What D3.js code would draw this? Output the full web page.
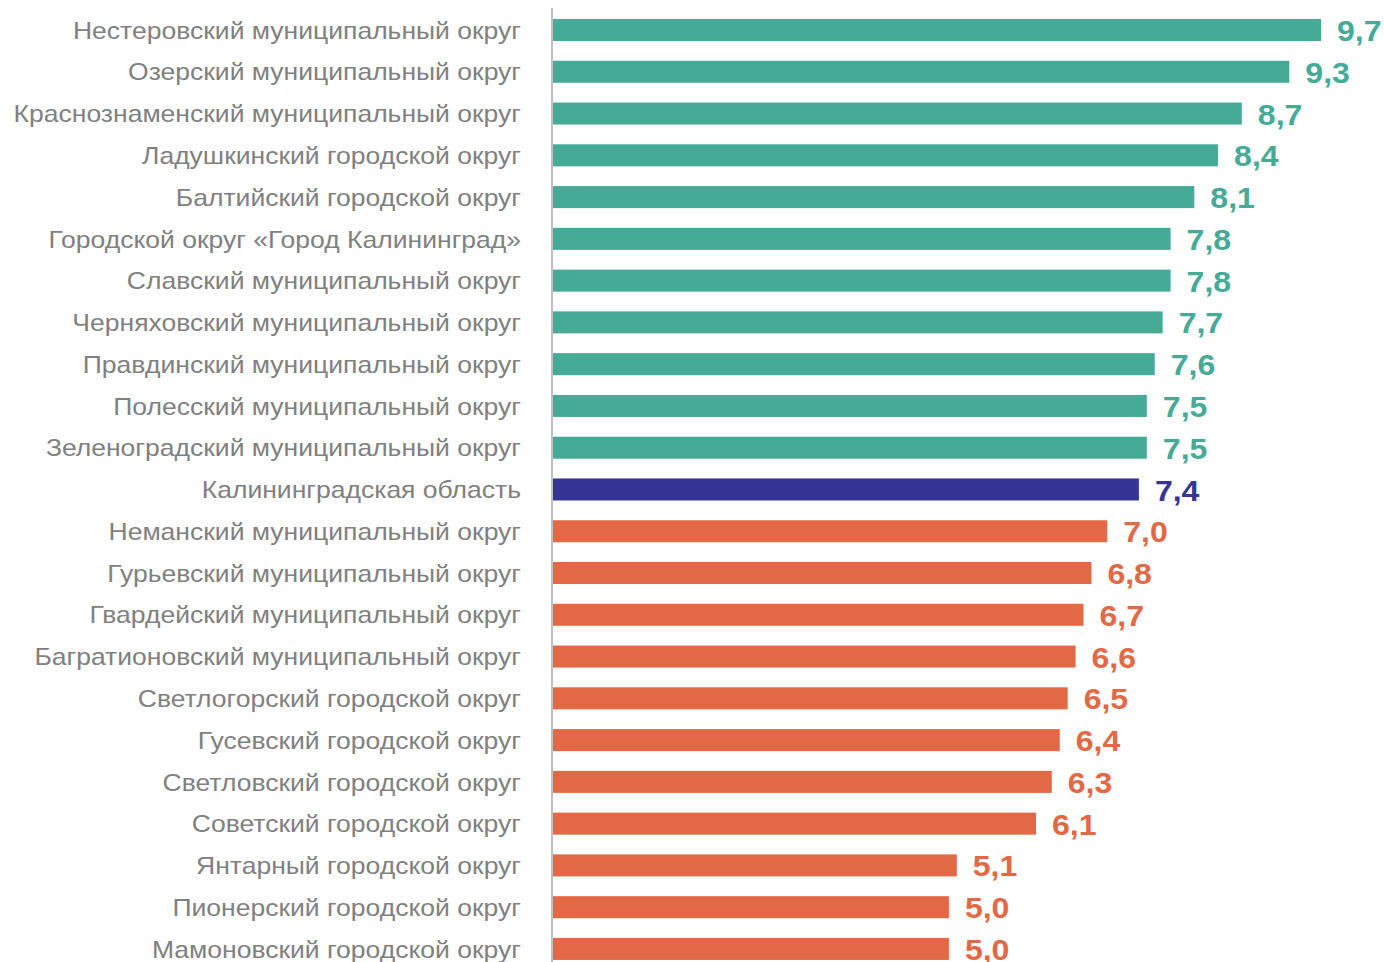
<!DOCTYPE html>
<html><head><meta charset="utf-8">
<script src="https://cdn.jsdelivr.net/npm/d3@7"></script>
<style>body{margin:0;background:#fff}svg{display:block}</style>
</head><body>
<script>
const categories = [
  "Нестеровский муниципальный округ",
  "Озерский муниципальный округ",
  "Краснознаменский муниципальный округ",
  "Ладушкинский городской округ",
  "Балтийский городской округ",
  "Городской округ «Город Калининград»",
  "Славский муниципальный округ",
  "Черняховский муниципальный округ",
  "Правдинский муниципальный округ",
  "Полесский муниципальный округ",
  "Зеленоградский муниципальный округ",
  "Калининградская область",
  "Неманский муниципальный округ",
  "Гурьевский муниципальный округ",
  "Гвардейский муниципальный округ",
  "Багратионовский муниципальный округ",
  "Светлогорский городской округ",
  "Гусевский городской округ",
  "Светловский городской округ",
  "Советский городской округ",
  "Янтарный городской округ",
  "Пионерский городской округ",
  "Мамоновский городской округ"
];
const values = [9.7, 9.3, 8.7, 8.4, 8.1, 7.8, 7.8, 7.7, 7.6, 7.5, 7.5, 7.4, 7.0, 6.8, 6.7, 6.6, 6.5, 6.4, 6.3, 6.1, 5.1, 5.0, 5.0];
const groups = ["above","above","above","above","above","above","above","above","above","above","above","region","below","below","below","below","below","below","below","below","below","below","below"];

const W = 1384, H = 962;
const colors = {above: "#45AA96", region: "#353596", below: "#E36845"};
const SX = 1.105;

const svg = d3.select("body").append("svg").attr("width", W).attr("height", H);

const x = d3.scaleLinear().domain([0, 9.7]).range([553, 1321]);
const step = 41.77;
const y = d3.scaleBand().domain(categories)
  .range([19 - step*0.2365, 19 - step*0.2365 + step*categories.length])
  .paddingInner(0.473).paddingOuter(0.2365);

const data = categories.map((c, i) => ({c, v: values[i], g: groups[i]}));

svg.selectAll("rect.bar").data(data).join("rect")
  .attr("class", "bar")
  .attr("x", x(0))
  .attr("y", d => y(d.c))
  .attr("width", d => x(d.v) - x(0))
  .attr("height", y.bandwidth())
  .attr("fill", d => colors[d.g]);

svg.selectAll("g.cat").data(data).join("g")
  .attr("class", "cat")
  .attr("transform", d => `translate(521,${y(d.c) + y.bandwidth()/2}) scale(${SX},1)`)
  .append("text")
  .attr("dy", "0.36em")
  .attr("text-anchor", "end")
  .attr("font-family", "Liberation Sans, Arial, sans-serif")
  .attr("font-size", 24)
  .attr("fill", "#808080")
  .text(d => d.c);

const fmt = v => v.toFixed(1).replace(".", ",");
svg.selectAll("g.val").data(data).join("g")
  .attr("class", "val")
  .attr("transform", d => `translate(${x(d.v) + 16},${y(d.c) + y.bandwidth()/2}) scale(${SX},1)`)
  .append("text")
  .attr("dy", "0.38em")
  .attr("font-family", "Liberation Sans, Arial, sans-serif")
  .attr("font-weight", "bold")
  .attr("font-size", 29)
  .attr("fill", d => colors[d.g])
  .text(d => fmt(d.v));

svg.append("line")
  .attr("x1", 552).attr("x2", 552)
  .attr("y1", 8).attr("y2", H)
  .attr("stroke", "#BFBFBF").attr("stroke-width", 2);
</script>
</body></html>
